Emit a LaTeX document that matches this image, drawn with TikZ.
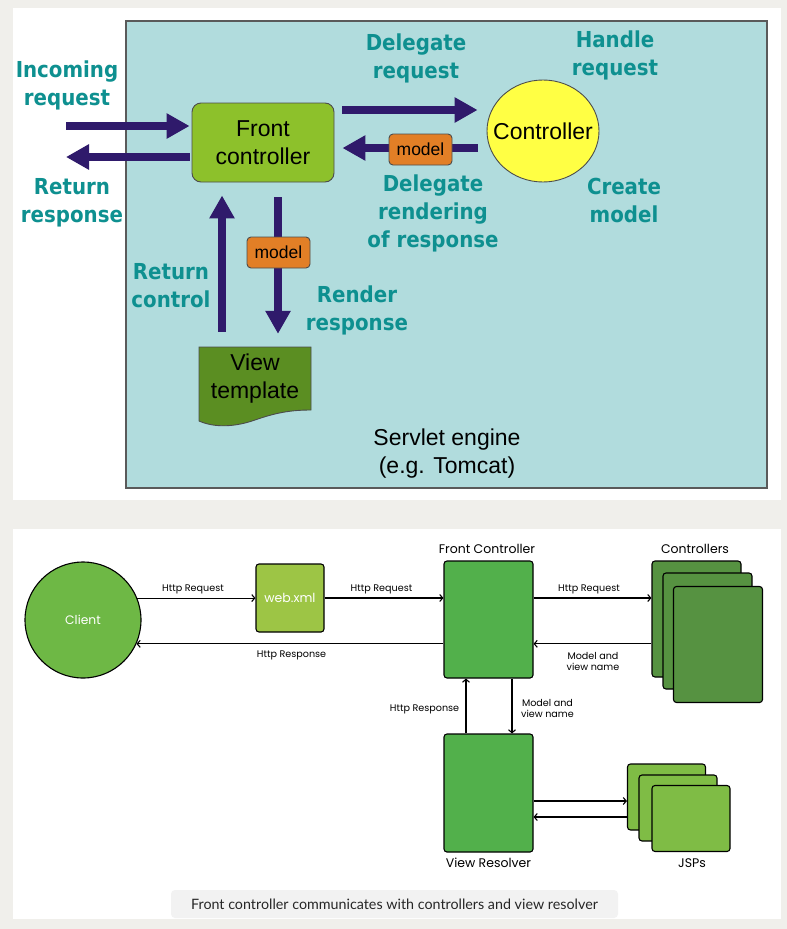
\documentclass[tikz,border=0pt]{standalone}
\usepackage{fontspec}
\setmainfont{Liberation Sans}
\newfontfamily\tealfont[FakeStretch=0.9]{DejaVu Sans}
\newfontfamily\popfont{Poppins}
\newfontfamily\capfont{Lato}
\usetikzlibrary{arrows.meta,shapes.geometric}

\definecolor{pagegray}{HTML}{F0EFEB}
\definecolor{enginecyan}{HTML}{B1DCDD}
\definecolor{engineedge}{HTML}{5A5A5A}
\definecolor{arrowpurple}{HTML}{2F1A6B}
\definecolor{labelteal}{HTML}{0E9090}
\definecolor{fcgreen}{HTML}{8DC12B}
\definecolor{ctrlyellow}{HTML}{FFFF44}
\definecolor{modelorange}{HTML}{E27F26}
\definecolor{viewgreen}{HTML}{5B8E22}
\definecolor{clientgreen}{HTML}{6EB845}
\definecolor{webgreen}{HTML}{9DC545}
\definecolor{boxgreen}{HTML}{52B04B}
\definecolor{ctrlgreen}{HTML}{569241}
\definecolor{jspgreen}{HTML}{7FBC45}
\definecolor{captiongray}{HTML}{F2F2F2}

\begin{document}
\begin{tikzpicture}[x=1pt,y=-1pt,
	bigarrow/.style={draw=arrowpurple, line width=8.5pt, -{Triangle[length=23pt,width=24pt]}},
	teallabel/.style={text=labelteal, align=center, inner sep=0pt,
		font=\tealfont\bfseries\fontsize{22}{28}\selectfont},
	plaintext/.style={align=center, inner sep=0pt, font=\fontsize{23}{28}\selectfont},
	modelbox/.style={draw=black!70, line width=0.9pt, fill=modelorange, rounded corners=4pt,
		minimum width=63pt, minimum height=31pt, inner sep=0pt, font=\fontsize{17.5}{20}\selectfont},
	thinarrow/.style={draw=black, line width=1.1pt, -{Straight Barb[length=3pt,width=7pt]}},
	gbox/.style={draw=black, line width=1.1pt, rounded corners=3pt, inner sep=0pt},
	card/.style={gbox, minimum width=89pt, minimum height=116pt, fill=ctrlgreen},
	jspcard/.style={gbox, minimum width=78pt, minimum height=66pt, fill=jspgreen},
	boxlabel/.style={inner sep=0pt, font=\popfont\fontsize{12.5}{14}\selectfont},
	arrowlabel/.style={inner sep=0pt, align=center, font=\popfont\fontsize{9.6}{11.5}\selectfont}
]

	% page and panels
	\useasboundingbox (0,0) rectangle (787,929);
	\fill[pagegray] (0,0) rectangle (787,929);
	\fill[white] (13,8) rectangle (781,500);
	\fill[white] (13,529) rectangle (781,919);

	% servlet engine
	\draw[fill=enginecyan, draw=engineedge, line width=1.5pt] (126,21) rectangle (767,488);
	\node[plaintext] (engine) at (447,454) {Servlet engine\\(e.g. Tomcat)};

	% front controller and controller
	\node[draw=black!70, line width=0.9pt, fill=fcgreen, rounded corners=9pt,
		minimum width=142pt, minimum height=79pt, align=center,
		font=\fontsize{23}{28}\selectfont] (fc) at (263,142.5) {Front\\controller};
	\node[ellipse, draw=black!70, line width=0.9pt, fill=ctrlyellow, inner sep=0pt,
		minimum width=112pt, minimum height=102pt,
		font=\fontsize{23}{28}\selectfont] (ctrl) at (543,131) {\makebox[0pt]{Controller}};

	% view template
	\fill[viewgreen, draw=black!70, line width=0.9pt] (199,347) -- (311,347) -- (311,410)
		.. controls (290,410) and (275,413) .. (255,420)
		.. controls (235,427) and (215,428) .. (199,421) -- cycle;
	\node[plaintext, minimum width=112pt, minimum height=63pt] (view) at (255,378.5) {View\\template};

	% levels of the horizontal arrows
	\coordinate (inlevel) at (66,126);
	\coordinate (outlevel) at (66,157);
	\coordinate (reqlevel) at (400,110);
	\coordinate (modlevel) at (400,148);

	% arrows
	\draw[bigarrow, shorten >=2pt] (inlevel) -- (inlevel -| fc.west);
	\draw[bigarrow, shorten <=2pt] (outlevel -| fc.west) -- (outlevel);
	\draw[bigarrow, shorten <=8pt, shorten >=9pt] (reqlevel -| fc.east) -- (reqlevel -| ctrl.west);
	\draw[bigarrow, shorten <=9pt, shorten >=8pt] (modlevel -| ctrl.west) -- (modlevel -| fc.east);
	\node[modelbox] (model1) at (420.5,149.5) {model};
	\draw[bigarrow] ([xshift=-33pt,yshift=15pt]view.north) -- ([xshift=-41pt,yshift=-13pt]fc.south);
	\draw[bigarrow] ([xshift=15pt,yshift=-15pt]fc.south) -- ([xshift=23pt,yshift=13pt]view.north);
	\node[modelbox] (model2) at (278.5,252.5) {model};

	% labels
	\node[teallabel] (lblin) at (67,85) {Incoming\\request};
	\node[teallabel] (lblout) at (72,203) {Return\\response};
	\node[teallabel] (lbldel) at (416,58) {Delegate\\request};
	\node[teallabel] (lblhandle) at (615,55) {Handle\\request};
	\node[teallabel] (lblrend) at (433,213) {Delegate\\rendering\\of response};
	\node[teallabel] (lblcreate) at (624,200) {Create\\model};
	\node[teallabel] (lblctl) at (171,286) {Return\\control};
	\node[teallabel] (lblresp) at (357,310.5) {Render\\response};

	% lower panel: boxes
	\node[circle, draw=black, line width=1.1pt, fill=clientgreen, minimum size=116pt,
		inner sep=0pt, text=white, font=\popfont\fontsize{12.3}{14}\selectfont] (client) at (83,620) {Client};
	\node[gbox, fill=webgreen, minimum width=68pt, minimum height=68pt, text=white,
		font=\popfont\fontsize{12.5}{14}\selectfont] (web) at (290,598) {web.xml};
	\node[gbox, fill=boxgreen, minimum width=89pt, minimum height=117pt] (front) at (488.5,619.5) {};
	\node[gbox, fill=boxgreen, minimum width=89pt, minimum height=118pt] (resolver) at (488.5,793) {};
	\node[card] (ctrlA) at (696.5,619) {};
	\node[card] (ctrlB) at (707.5,631) {};
	\node[card] (ctrlC) at (718,644.5) {};
	\node[jspcard] (jspA) at (666.5,797) {};
	\node[jspcard] (jspB) at (678,808) {};
	\node[jspcard] (jspC) at (691,818.5) {};

	\node[boxlabel] (frontlbl) at (487,549) {Front Controller};
	\node[boxlabel] (ctrllbl) at (695,549) {Controllers};
	\node[boxlabel] (reslbl) at (488.5,863) {View Resolver};
	\node[boxlabel] (jsplbl) at (692,863) {JSPs};

	% lower panel: arrows
	\draw[thinarrow] (client.22.3) -- (client.22.3 -| web.west);
	\draw[thinarrow] (web.east) -- (web.east -| front.west);
	\draw[thinarrow] (web.east -| front.east) -- (web.east -| ctrlA.west);
	\draw[thinarrow] (client.-24.4 -| ctrlA.west) -- (client.-24.4 -| front.east);
	\draw[thinarrow] (client.-24.4 -| front.west) -- (client.-24.4);
	\draw[thinarrow] ([xshift=-22.5pt]resolver.north) -- ([xshift=-22.5pt]front.south);
	\draw[thinarrow] ([xshift=23.5pt]front.south) -- ([xshift=23.5pt]resolver.north);
	\draw[thinarrow] ([yshift=-8pt]resolver.east) -- ([yshift=-4pt]jspA.west);
	\draw[thinarrow] ([yshift=-20pt]jspA.west) -- ([yshift=-24pt]resolver.east);

	\node[arrowlabel] (req1) at (193,589) {Http Request};
	\node[arrowlabel] (req2) at (381.5,589) {Http Request};
	\node[arrowlabel] (req3) at (589,589) {Http Request};
	\node[arrowlabel] (resp1) at (291.5,655.5) {Http Response};
	\node[arrowlabel] (mv1) at (593,661.5) {Model and\\view name};
	\node[arrowlabel] (resp2) at (424.5,709) {Http Response};
	\node[arrowlabel] (mv2) at (547.5,708.5) {Model and\\view name};

	% caption
	\node[fill=captiongray, rounded corners=4pt, minimum width=447pt, minimum height=28pt,
		inner sep=0pt, text=black!85, font=\capfont\fontsize{14.3}{16}\selectfont] (caption)
		at (394.5,904) {Front controller communicates with controllers and view resolver};

\end{tikzpicture}
\end{document}
